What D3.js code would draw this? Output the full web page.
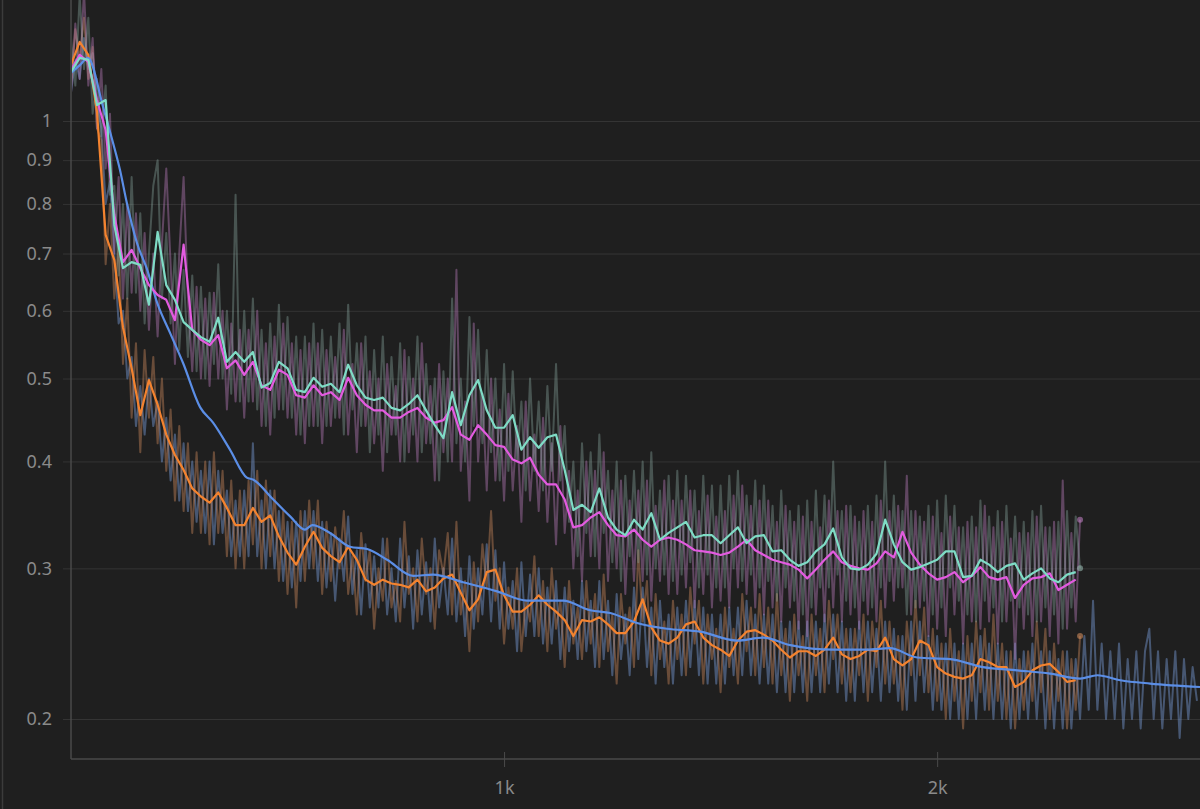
<!DOCTYPE html>
<meta charset="utf-8">
<script src="https://d3js.org/d3.v7.min.js"></script>
<style>
  body { margin: 0; background: #1f1f1f; overflow: hidden; }
  svg { display: block; }
  .lbl { font-family: "Noto Sans", "Open Sans", sans-serif; font-size: 18px; fill: #8a8a8a; }
</style>
<div id="chart"></div>
<script>
// sampling grid of the runs (training step)
var smoothSteps = d3.range(0, 2321, 20);
var rawSteps = d3.range(0, 2331, 10);
var blueRawSteps = d3.range(0, 2601, 10);

var yTicks = [0.2, 0.3, 0.4, 0.5, 0.6, 0.7, 0.8, 0.9, 1];
var xTicks = [1000, 2000];
var xTickLabels = ["1k", "2k"];

// smoothed curves, one value every 20 steps
var orangeSmooth = [
  1.163,1.237,1.195,1.025,0.736,0.688,0.574,0.514,0.453,0.498,
  0.466,0.430,0.407,0.391,0.372,0.364,0.358,0.368,0.353,0.337,
  0.337,0.353,0.340,0.346,0.327,0.313,0.303,0.318,0.331,0.317,
  0.310,0.305,0.318,0.307,0.291,0.287,0.291,0.288,0.287,0.285,
  0.291,0.282,0.285,0.292,0.295,0.281,0.268,0.276,0.297,0.299,
  0.279,0.267,0.267,0.272,0.279,0.272,0.267,0.261,0.250,0.261,
  0.260,0.263,0.258,0.252,0.252,0.260,0.276,0.256,0.247,0.245,
  0.249,0.258,0.260,0.249,0.244,0.241,0.237,0.247,0.253,0.254,
  0.251,0.247,0.241,0.236,0.240,0.240,0.237,0.241,0.249,0.238,
  0.235,0.237,0.241,0.240,0.249,0.235,0.231,0.235,0.247,0.244,
  0.230,0.226,0.224,0.223,0.225,0.235,0.233,0.230,0.230,0.218,
  0.221,0.228,0.231,0.232,0.227,0.221,0.222
];
var tealSmooth = [
  1.141,1.185,1.179,1.044,1.058,0.756,0.673,0.684,0.679,0.610,
  0.742,0.643,0.618,0.582,0.570,0.559,0.552,0.589,0.523,0.537,
  0.523,0.537,0.488,0.494,0.523,0.514,0.485,0.482,0.501,0.489,
  0.493,0.482,0.519,0.491,0.475,0.472,0.475,0.462,0.459,0.467,
  0.478,0.459,0.441,0.426,0.482,0.441,0.478,0.498,0.459,0.438,
  0.438,0.453,0.413,0.427,0.415,0.427,0.430,0.391,0.351,0.356,
  0.349,0.372,0.344,0.333,0.328,0.342,0.333,0.348,0.324,0.330,
  0.335,0.340,0.326,0.328,0.328,0.321,0.328,0.335,0.321,0.327,
  0.328,0.314,0.315,0.307,0.302,0.305,0.314,0.320,0.334,0.309,
  0.300,0.299,0.303,0.312,0.342,0.320,0.305,0.299,0.301,0.304,
  0.307,0.314,0.314,0.293,0.294,0.307,0.303,0.297,0.302,0.304,
  0.291,0.296,0.300,0.292,0.289,0.295,0.297
];
var pinkSmooth = [
  1.147,1.195,1.172,1.058,0.976,0.777,0.684,0.707,0.673,0.643,
  0.626,0.618,0.585,0.717,0.570,0.555,0.547,0.562,0.514,0.525,
  0.505,0.523,0.491,0.485,0.512,0.505,0.478,0.475,0.491,0.478,
  0.482,0.472,0.501,0.478,0.466,0.459,0.459,0.450,0.450,0.457,
  0.462,0.450,0.444,0.447,0.463,0.430,0.424,0.441,0.430,0.418,
  0.416,0.402,0.398,0.404,0.386,0.376,0.376,0.361,0.335,0.337,
  0.344,0.349,0.337,0.328,0.327,0.333,0.324,0.318,0.324,0.326,
  0.324,0.320,0.315,0.314,0.313,0.311,0.313,0.318,0.324,0.315,
  0.311,0.307,0.305,0.303,0.299,0.292,0.299,0.307,0.314,0.305,
  0.302,0.300,0.299,0.304,0.314,0.309,0.331,0.313,0.303,0.296,
  0.291,0.293,0.297,0.289,0.294,0.301,0.293,0.291,0.293,0.277,
  0.287,0.292,0.293,0.296,0.283,0.287,0.291
];
// the blue run is smoothed much harder, so it is read at its own points
var blueSmoothSteps = [
  0,21,39,74,97,113,129,152,176,199,
  229,259,298,328,367,406,420,467,506,540,
  557,598,644,684,730,790,836,905,984,1053,
  1136,1199,1245,1307,1376,1453,1538,1598,1661,1760,
  1838,1891,1954,2030,2106,2185,2261,2330,2370,2423,
  2492,2607
];
var blueSmooth = [
  1.138,1.163,1.185,1.039,0.943,0.877,0.802,0.721,0.670,0.613,
  0.565,0.521,0.463,0.444,0.413,0.383,0.381,0.361,0.345,0.333,
  0.337,0.330,0.318,0.316,0.307,0.294,0.295,0.289,0.282,0.275,
  0.275,0.268,0.266,0.259,0.255,0.253,0.247,0.249,0.244,0.241,
  0.241,0.242,0.236,0.235,0.230,0.228,0.226,0.223,0.225,0.222,
  0.220,0.218
];

// raw values, one every 10 steps
var orangeRaw = [
  1.10,1.28,1.18,1.32,1.12,1.22,0.98,0.95,0.68,0.80,
  0.62,0.72,0.52,0.62,0.45,0.55,0.41,0.54,0.45,0.53,
  0.42,0.50,0.39,0.46,0.36,0.44,0.35,0.42,0.33,0.41,
  0.33,0.40,0.32,0.41,0.33,0.39,0.31,0.38,0.30,0.37,
  0.30,0.38,0.32,0.39,0.30,0.38,0.31,0.37,0.29,0.35,
  0.28,0.34,0.27,0.35,0.29,0.36,0.30,0.36,0.28,0.34,
  0.29,0.335,0.30,0.35,0.28,0.31,0.265,0.33,0.29,0.315,
  0.255,0.30,0.275,0.325,0.27,0.29,0.26,0.34,0.28,0.30,
  0.26,0.325,0.28,0.30,0.255,0.315,0.295,0.33,0.265,0.34,
  0.265,0.29,0.24,0.305,0.26,0.32,0.285,0.35,0.275,0.30,
  0.245,0.285,0.255,0.30,0.24,0.275,0.26,0.31,0.25,0.29,
  0.24,0.30,0.255,0.275,0.23,0.29,0.245,0.27,0.235,0.29,
  0.245,0.28,0.23,0.295,0.24,0.265,0.22,0.28,0.245,0.27,
  0.23,0.315,0.26,0.29,0.225,0.28,0.235,0.26,0.22,0.275,
  0.235,0.265,0.225,0.285,0.245,0.275,0.22,0.265,0.235,0.255,
  0.215,0.27,0.23,0.255,0.22,0.28,0.24,0.27,0.225,0.28,
  0.23,0.27,0.22,0.28,0.225,0.255,0.21,0.265,0.225,0.25,
  0.21,0.265,0.225,0.255,0.215,0.275,0.235,0.265,0.22,0.255,
  0.215,0.255,0.225,0.265,0.21,0.26,0.23,0.275,0.22,0.26,
  0.22,0.25,0.205,0.26,0.225,0.275,0.225,0.27,0.215,0.255,
  0.21,0.245,0.20,0.255,0.21,0.24,0.195,0.25,0.21,0.26,
  0.215,0.255,0.205,0.265,0.21,0.245,0.20,0.24,0.195,0.235,
  0.205,0.24,0.21,0.26,0.215,0.255,0.20,0.245,0.21,0.24,
  0.195,0.235,0.205,0.25
];
var blueRaw = [
  1.08,1.18,1.12,1.25,1.15,1.20,1.05,0.98,0.80,0.85,
  0.70,0.58,0.60,0.50,0.53,0.44,0.49,0.43,0.50,0.44,
  0.47,0.40,0.45,0.38,0.43,0.36,0.42,0.35,0.40,0.34,
  0.39,0.33,0.40,0.32,0.39,0.33,0.37,0.31,0.36,0.31,
  0.37,0.31,0.42,0.31,0.36,0.30,0.37,0.30,0.35,0.29,
  0.34,0.285,0.34,0.29,0.35,0.30,0.35,0.29,0.34,0.285,
  0.33,0.275,0.325,0.29,0.345,0.28,0.315,0.265,0.32,0.27,
  0.31,0.27,0.325,0.265,0.30,0.26,0.325,0.27,0.31,0.255,
  0.315,0.265,0.305,0.26,0.325,0.27,0.30,0.265,0.325,0.26,
  0.30,0.25,0.31,0.255,0.30,0.265,0.32,0.26,0.315,0.255,
  0.305,0.255,0.29,0.24,0.305,0.25,0.295,0.25,0.30,0.245,
  0.285,0.245,0.29,0.235,0.285,0.24,0.275,0.235,0.29,0.24,
  0.275,0.23,0.29,0.235,0.275,0.225,0.28,0.235,0.265,0.225,
  0.285,0.235,0.285,0.23,0.27,0.22,0.275,0.23,0.265,0.22,
  0.27,0.225,0.275,0.23,0.275,0.225,0.27,0.22,0.265,0.22,
  0.265,0.22,0.27,0.225,0.27,0.225,0.275,0.225,0.265,0.22,
  0.265,0.22,0.265,0.215,0.26,0.215,0.26,0.215,0.26,0.215,
  0.26,0.215,0.26,0.215,0.265,0.22,0.265,0.215,0.26,0.21,
  0.255,0.21,0.26,0.215,0.26,0.215,0.255,0.21,0.26,0.215,
  0.255,0.21,0.25,0.205,0.26,0.21,0.26,0.215,0.25,0.205,
  0.25,0.205,0.245,0.20,0.245,0.20,0.245,0.20,0.245,0.20,
  0.25,0.205,0.245,0.20,0.245,0.20,0.24,0.195,0.245,0.20,
  0.24,0.20,0.245,0.20,0.24,0.195,0.24,0.195,0.235,0.195,
  0.24,0.195,0.235,0.20,0.25,0.205,0.275,0.205,0.245,0.20,
  0.24,0.20,0.245,0.195,0.235,0.20,0.24,0.195,0.24,0.255,
  0.20,0.24,0.195,0.235,0.20,0.24,0.19,0.235,0.20,0.23,
  0.21
];
var pinkRaw = [
  1.08,1.30,1.12,1.42,1.10,1.25,0.98,1.15,0.88,1.02,
  0.70,0.86,0.62,0.80,0.63,0.78,0.60,0.74,0.57,0.70,
  0.56,0.72,0.88,0.68,0.52,0.70,0.86,0.62,0.51,0.64,
  0.50,0.62,0.49,0.63,0.50,0.60,0.46,0.58,0.47,0.57,
  0.45,0.57,0.47,0.60,0.44,0.55,0.43,0.56,0.46,0.58,
  0.45,0.55,0.43,0.54,0.42,0.55,0.44,0.55,0.42,0.54,
  0.44,0.53,0.45,0.57,0.43,0.52,0.41,0.55,0.44,0.51,
  0.42,0.50,0.39,0.52,0.43,0.49,0.40,0.54,0.41,0.50,
  0.40,0.55,0.42,0.49,0.38,0.52,0.41,0.50,0.40,0.67,
  0.39,0.47,0.36,0.58,0.40,0.48,0.37,0.50,0.38,0.46,
  0.36,0.48,0.37,0.44,0.34,0.47,0.36,0.43,0.35,0.45,
  0.34,0.42,0.32,0.44,0.33,0.39,0.30,0.37,0.29,0.40,
  0.31,0.39,0.30,0.41,0.29,0.37,0.30,0.38,0.28,0.36,
  0.29,0.37,0.29,0.38,0.275,0.355,0.29,0.38,0.28,0.36,
  0.28,0.36,0.285,0.37,0.27,0.35,0.28,0.365,0.27,0.345,
  0.275,0.35,0.27,0.365,0.285,0.375,0.28,0.355,0.27,0.36,
  0.265,0.36,0.27,0.34,0.26,0.355,0.27,0.34,0.255,0.345,
  0.25,0.34,0.265,0.335,0.26,0.36,0.27,0.35,0.26,0.355,
  0.265,0.345,0.255,0.35,0.265,0.34,0.26,0.36,0.27,0.35,
  0.275,0.355,0.285,0.385,0.265,0.35,0.27,0.34,0.25,0.345,
  0.255,0.33,0.25,0.345,0.265,0.335,0.245,0.34,0.26,0.335,
  0.255,0.355,0.26,0.335,0.245,0.34,0.26,0.325,0.235,0.33,
  0.255,0.33,0.25,0.345,0.26,0.335,0.25,0.34,0.245,0.38,
  0.255,0.33,0.26,0.342
];
var tealRaw = [
  1.25,1.10,1.40,1.15,1.32,1.02,1.12,0.96,1.10,0.82,
  0.84,0.66,0.80,0.62,0.86,0.63,0.78,0.58,0.70,0.84,
  0.90,0.62,0.74,0.58,0.70,0.54,0.67,0.53,0.66,0.51,
  0.64,0.50,0.63,0.52,0.68,0.50,0.60,0.48,0.82,0.47,
  0.60,0.47,0.62,0.46,0.57,0.44,0.58,0.45,0.61,0.46,
  0.59,0.45,0.56,0.43,0.56,0.44,0.58,0.44,0.57,0.44,
  0.56,0.45,0.58,0.43,0.61,0.46,0.55,0.44,0.56,0.41,
  0.54,0.43,0.56,0.41,0.53,0.43,0.55,0.40,0.53,0.43,
  0.56,0.41,0.52,0.42,0.50,0.38,0.51,0.40,0.62,0.42,
  0.50,0.40,0.59,0.44,0.57,0.42,0.54,0.41,0.50,0.38,
  0.52,0.39,0.51,0.40,0.47,0.37,0.50,0.39,0.47,0.37,
  0.49,0.39,0.52,0.38,0.44,0.34,0.40,0.31,0.42,0.33,
  0.41,0.31,0.43,0.33,0.39,0.305,0.40,0.29,0.385,0.31,
  0.39,0.305,0.40,0.295,0.41,0.30,0.37,0.295,0.385,0.29,
  0.39,0.295,0.385,0.305,0.37,0.285,0.385,0.295,0.375,0.285,
  0.375,0.285,0.385,0.30,0.39,0.29,0.365,0.295,0.38,0.285,
  0.375,0.29,0.355,0.275,0.37,0.285,0.35,0.275,0.355,0.265,
  0.36,0.27,0.37,0.285,0.365,0.285,0.40,0.295,0.35,0.275,
  0.355,0.27,0.34,0.275,0.355,0.27,0.365,0.285,0.40,0.29,
  0.365,0.285,0.35,0.265,0.35,0.27,0.345,0.275,0.355,0.265,
  0.36,0.27,0.365,0.285,0.355,0.275,0.335,0.265,0.345,0.26,
  0.36,0.275,0.345,0.27,0.35,0.26,0.355,0.275,0.345,0.27,
  0.34,0.265,0.35,0.26,0.355,0.27,0.335,0.265,0.34,0.255,
  0.35,0.27,0.345,0.30
];

var W = 1200, H = 809;
var left = 71, bottom = 759;

var svg = d3.select("#chart").append("svg")
    .attr("width", W)
    .attr("height", H);

svg.append("rect")
    .attr("width", W).attr("height", H)
    .attr("fill", "#1f1f1f");

var x = d3.scaleLinear()
    .domain([0, 2607])
    .range([left, W]);

var y = d3.scaleLog()
    .domain([0.2, 1])
    .range([719, 121]);

// thin frame line at the far left
svg.append("line")
    .attr("x1", 2.5).attr("x2", 2.5)
    .attr("y1", 0).attr("y2", H)
    .attr("stroke", "#3b3b3b")
    .attr("stroke-width", 1.5);

// horizontal grid + y ticks
var yAxis = svg.append("g")
    .attr("transform", "translate(" + left + ",0)")
    .call(d3.axisLeft(y)
      .tickValues(yTicks)
      .tickFormat(d3.format("~g"))
      .tickSize(-(W - left))
      .tickPadding(19));
yAxis.select(".domain").remove();
yAxis.selectAll(".tick line")
    .attr("x1", -8)
    .attr("stroke", "#343434");
yAxis.selectAll(".tick text")
    .attr("class", "lbl")
    .attr("fill", null);

// axis lines
svg.append("line")
    .attr("x1", left).attr("x2", left)
    .attr("y1", 0).attr("y2", bottom)
    .attr("stroke", "#4a4a4a").attr("stroke-width", 1.5);

var xAxis = svg.append("g")
    .attr("transform", "translate(0," + bottom + ")")
    .call(d3.axisBottom(x)
      .tickValues(xTicks)
      .tickFormat(function(d, i) { return xTickLabels[i]; })
      .tickSize(8)
      .tickPadding(14));
xAxis.select(".domain")
    .attr("d", "M" + left + ",0H" + W)
    .attr("stroke", "#4a4a4a").attr("stroke-width", 1.5);
xAxis.selectAll(".tick line")
    .attr("y1", -7)
    .attr("stroke", "#4a4a4a");
xAxis.selectAll(".tick text")
    .attr("class", "lbl")
    .attr("fill", null);

svg.append("clipPath").attr("id", "plot")
  .append("rect")
    .attr("x", left + 1).attr("y", 0)
    .attr("width", W - left).attr("height", bottom - 1);

var plot = svg.append("g").attr("clip-path", "url(#plot)");

var line = d3.line()
    .x(function(d) { return x(d[0]); })
    .y(function(d) { return y(d[1]); });

// raw traces use a greyed-down version of each run colour
var runs = [
  { color: "#5b8ee6", rawColor: "#6f8fc6", raw: d3.zip(blueRawSteps, blueRaw), smooth: d3.zip(blueSmoothSteps, blueSmooth), rawOp: 0.5, dot: false },
  { color: "#f4832f", rawColor: "#cf8a5c", raw: d3.zip(rawSteps, orangeRaw), smooth: d3.zip(smoothSteps, orangeSmooth), rawOp: 0.42, dot: true },
  { color: "#e35be0", rawColor: "#b97cbc", raw: d3.zip(rawSteps, pinkRaw), smooth: d3.zip(smoothSteps, pinkSmooth), rawOp: 0.42, dot: true },
  { color: "#7fdcc6", rawColor: "#93b4ac", raw: d3.zip(rawSteps, tealRaw), smooth: d3.zip(smoothSteps, tealSmooth), rawOp: 0.36, dot: true }
];

// raw traces underneath
runs.forEach(function(r) {
  plot.append("path")
      .datum(r.raw)
      .attr("d", line)
      .attr("fill", "none")
      .attr("stroke", r.rawColor)
      .attr("stroke-opacity", r.rawOp)
      .attr("stroke-width", 2)
      .attr("stroke-linejoin", "round");
});

// last raw point markers
runs.filter(function(r) { return r.dot; }).forEach(function(r) {
  var last = r.raw[r.raw.length - 1];
  plot.append("circle")
      .attr("cx", x(last[0]))
      .attr("cy", y(last[1]))
      .attr("r", 3)
      .attr("fill", r.rawColor)
      .attr("fill-opacity", 0.6);
});

// smoothed lines on top: orange, blue, pink, teal
[1, 0, 2, 3].forEach(function(i) {
  var r = runs[i];
  plot.append("path")
      .datum(r.smooth)
      .attr("d", line.curve(i === 0 ? d3.curveMonotoneX : d3.curveLinear))
      .attr("fill", "none")
      .attr("stroke", r.color)
      .attr("stroke-width", 2.2)
      .attr("stroke-linejoin", "round");
});
</script>
